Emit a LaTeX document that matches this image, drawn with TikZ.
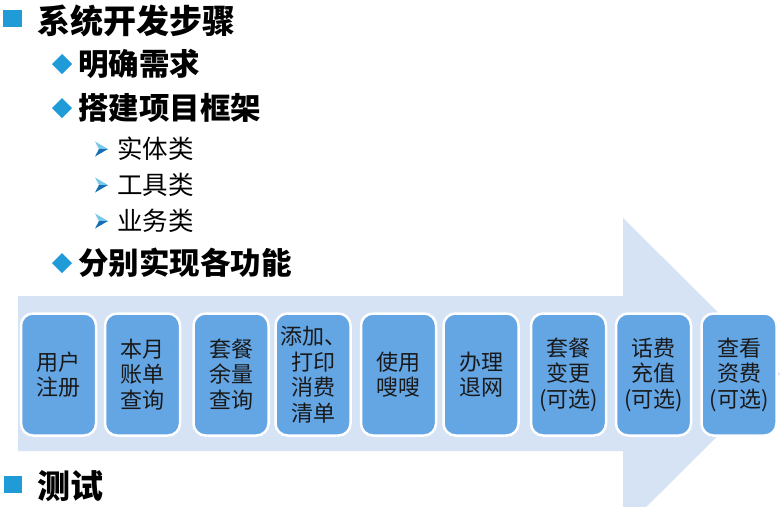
\documentclass[tikz,border=0pt]{standalone}
\usepackage{fontspec}
\setmainfont{Noto Sans CJK SC}
\newfontfamily\cjk{Noto Sans CJK SC}
\definecolor{arrowbg}{RGB}{213,227,245}
\definecolor{boxfill}{RGB}{100,165,228}
\definecolor{bulletblue}{RGB}{31,155,216}
\definecolor{bulletlight}{RGB}{120,200,235}
\definecolor{bulletdark}{RGB}{20,110,180}
\tikzset{
  lvlone/.style={anchor=west, inner sep=0pt, font=\cjk\bfseries\fontsize{33}{36}\selectfont},
  lvltwo/.style={anchor=west, inner sep=0pt, font=\cjk\bfseries\fontsize{30.5}{33}\selectfont},
  lvlthree/.style={anchor=west, inner sep=0pt, font=\cjk\fontsize{25.5}{28}\selectfont},
  stepbox/.style={draw=white, line width=2.5pt, fill=boxfill, rounded corners=12pt,
    minimum width=75pt, minimum height=122pt, inner sep=0pt, align=center,
    font=\cjk\fontsize{22}{25.5}\selectfont, text=black!90},
  squarebullet/.style={fill=bulletblue},
  diamondbullet/.style={fill=bulletblue},
}
\begin{document}
\begin{tikzpicture}[x=1pt,y=-1pt]
\clip (0,0) rectangle (784,506);
\fill[white] (0,0) rectangle (784,506);
% big arrow
\fill[arrowbg] (18,296) -- (623,296) -- (623,218) -- (780,374) -- (623,530) -- (623,451) -- (18,451) -- cycle;
% headings
\fill[squarebullet] (3,10) rectangle (22,27);
\node[lvlone] (t1) at (37,21) {系统开发步骤};
\fill[diamondbullet] (62,54) -- (72,64) -- (62,74) -- (52,64) -- cycle;
\node[lvltwo] (t2) at (78,64) {明确需求};
\fill[diamondbullet] (62,98) -- (72,108) -- (62,118) -- (52,108) -- cycle;
\node[lvltwo] (t3) at (78,108) {搭建项目框架};
\foreach \yy/\nm/\txt in {149/a/实体类,185/b/工具类,221/c/业务类}{
  \fill[bulletlight] (95,\yy-7.5) -- (108,\yy) -- (99,\yy) -- cycle;
  \fill[bulletdark] (99,\yy) -- (108,\yy) -- (95,\yy+7.5) -- cycle;
  \node[lvlthree] (s\nm) at (117,\yy) {\txt};
}
\fill[diamondbullet] (62,253) -- (72,263) -- (62,273) -- (52,263) -- cycle;
\node[lvltwo] (t4) at (78,263) {分别实现各功能};
\fill[squarebullet] (4,476) rectangle (22,493);
\node[lvlone] (t5) at (37,486) {测试};
% step boxes
\node[stepbox] (b1) at (58.5,374.5) {用户\\注册};
\node[stepbox] (b2) at (142.5,374.5) {本月\\账单\\查询};
\node[stepbox] (b3) at (231,374.5) {套餐\\余量\\查询};
\node[stepbox] (b4) at (313,374.5) {添加、\\打印\\消费\\清单};
\node[stepbox] (b5) at (398.5,374.5) {使用\\嗖嗖};
\node[stepbox] (b6) at (481,374.5) {办理\\退网};
\node[stepbox] (b7) at (568.5,374.5) {套餐\\变更\\(可选)};
\node[stepbox] (b8) at (653.5,374.5) {话费\\充值\\(可选)};
\node[stepbox] (b9) at (739,374.5) {查看\\资费\\(可选)};
\end{tikzpicture}
\end{document}
